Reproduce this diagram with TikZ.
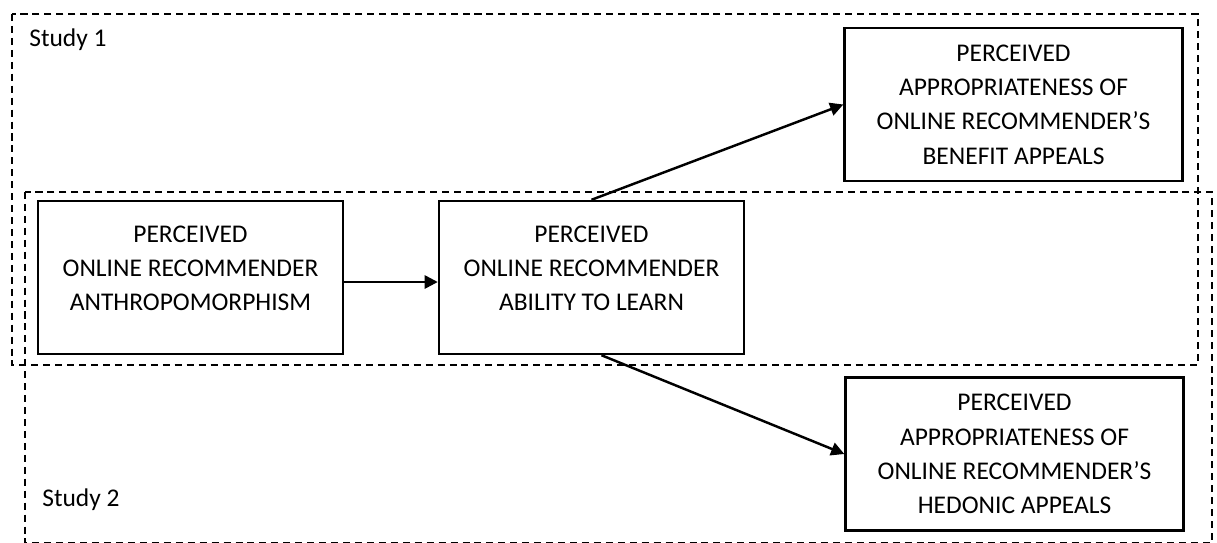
\documentclass[tikz,border=0pt]{standalone}
\usepackage{fontspec}
\setmainfont{Carlito}
\usetikzlibrary{arrows.meta}

\tikzset{
  construct/.style={draw, line width=1.4pt, align=center, minimum width=6.1cm, minimum height=3.06cm,
    font=\fontsize{14.5}{19.5}\selectfont},
  raised/.style={text depth=10.8pt},
  outcome/.style={construct, minimum width=6.76cm},
  studyframe/.style={line width=1.4pt, dash pattern=on 4pt off 2.8pt},
  studylabel/.style={font=\fontsize{14.5}{19.5}\selectfont},
  path/.style={line width=1.4pt, -{Triangle[length=7.5pt,width=7.5pt]}}
}

\begin{document}
\begin{tikzpicture}[x=0.02cm, y=-0.02cm]
  \useasboundingbox (0,0) rectangle (1217,542);

  % Study frames
  \draw[studyframe] (12,14) rectangle (1198,365);
  \draw[studyframe] (25,192) rectangle (1212,543);
  \node[studylabel] (study1) at (68,40) {Study 1};
  \node[studylabel] (study2) at (81,500) {Study 2};

  % Constructs
  \node[construct, raised] (anthro) at (190.5,277.5) {PERCEIVED\\ONLINE RECOMMENDER\\ANTHROPOMORPHISM};
  \node[construct, raised] (learn) at (591.5,277.5) {PERCEIVED\\ONLINE RECOMMENDER\\ABILITY TO LEARN};
  \node[outcome] (benefit) at (1013.5,104.5) {PERCEIVED\\APPROPRIATENESS OF\\ONLINE RECOMMENDER’S\\BENEFIT APPEALS};
  \node[outcome] (hedonic) at (1014.5,454) {PERCEIVED\\APPROPRIATENESS OF\\ONLINE RECOMMENDER’S\\HEDONIC APPEALS};

  % Paths
  \draw[path] ([yshift=-0.09cm]anthro.east) -- ([yshift=-0.09cm]learn.west);
  \draw[path] (learn.north) -- (benefit.west);
  \draw[path] ([xshift=0.2cm]learn.south) -- (hedonic.west);
\end{tikzpicture}
\end{document}
